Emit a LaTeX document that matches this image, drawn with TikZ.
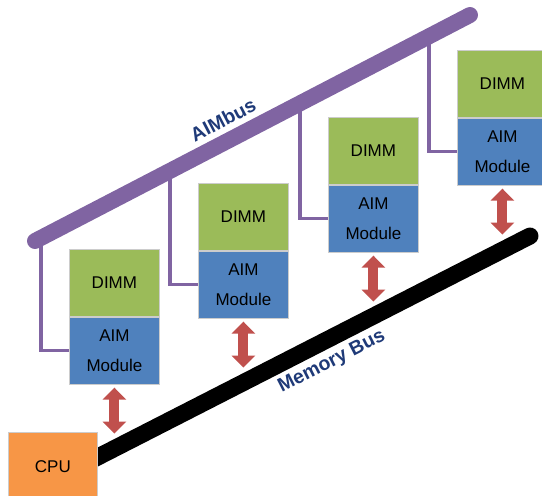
\documentclass[tikz,border=0pt]{standalone}
\usepackage{fontspec}
\setmainfont{Liberation Sans}
\usetikzlibrary{positioning,calc,arrows.meta}
\definecolor{dimmgreen}{HTML}{9BBB59}
\definecolor{aimblue}{HTML}{4F81BD}
\definecolor{cpuorange}{HTML}{F79646}
\definecolor{buspurple}{HTML}{8064A2}
\definecolor{linkred}{HTML}{C0504D}
\definecolor{labelnavy}{HTML}{1F3A78}
\tikzset{
  box/.style={draw=black!20, line width=0.8pt, minimum width=90pt, minimum height=67pt,
    inner sep=0pt, align=center, font=\fontsize{17}{30}\selectfont},
  dimmbox/.style={box, fill=dimmgreen},
  aimbox/.style={box, fill=aimblue},
  cpubox/.style={box, fill=cpuorange, minimum width=89pt, minimum height=68pt},
  aimbus/.style={line width=16pt, buspurple, line cap=round},
  membus/.style={line width=17pt, black, line cap=round},
  aimlink/.style={line width=3.5pt, buspurple},
  memlink/.style={line width=10pt, linkred, shorten <=3pt,
    {Triangle[width=23pt,length=12pt]}-{Triangle[width=23pt,length=12pt]}},
  buslabel/.style={font=\fontsize{19.5}{22}\selectfont\bfseries, text=labelnavy}
}

\begin{document}
\begin{tikzpicture}[x=1pt,y=-1pt]
    \useasboundingbox (0,0) rectangle (542,496);
    \coordinate (aimL) at (35,241); \coordinate (aimR) at (470,15);
    \coordinate (memL) at (90,461); \coordinate (memR) at (530,236);
    % memory bus and cpu
    \draw[membus] (memL) -- (memR);
    \node[cpubox, anchor=north west] (cpu) at (8,432) {CPU};
    % modules
    \foreach \i/\x/\y in {1/69/249, 2/198/183, 3/328/117, 4/457/50} {
      \node[dimmbox, anchor=north west] (d\i) at (\x,\y) {DIMM};
      \node[aimbox, below=0pt of d\i] (a\i) {AIM\\Module};
      \coordinate (t\i) at ($(aimL)!{(\x-63)/435}!(aimR)$);
      \coordinate (m\i) at ($(a\i.south)+(0,49)$);
      \draw[aimlink] (t\i) |- (a\i.west);
      \draw[memlink] (a\i.south) -- (m\i);
    }
    % AIMbus
    \draw[aimbus] (aimL) -- (aimR);
    \node[buslabel, rotate=27.5] (aimtxt) at (223,120) {AIMbus};
    \node[buslabel, rotate=27] (memtxt) at (332,362) {Memory Bus};
\end{tikzpicture}
\end{document}
